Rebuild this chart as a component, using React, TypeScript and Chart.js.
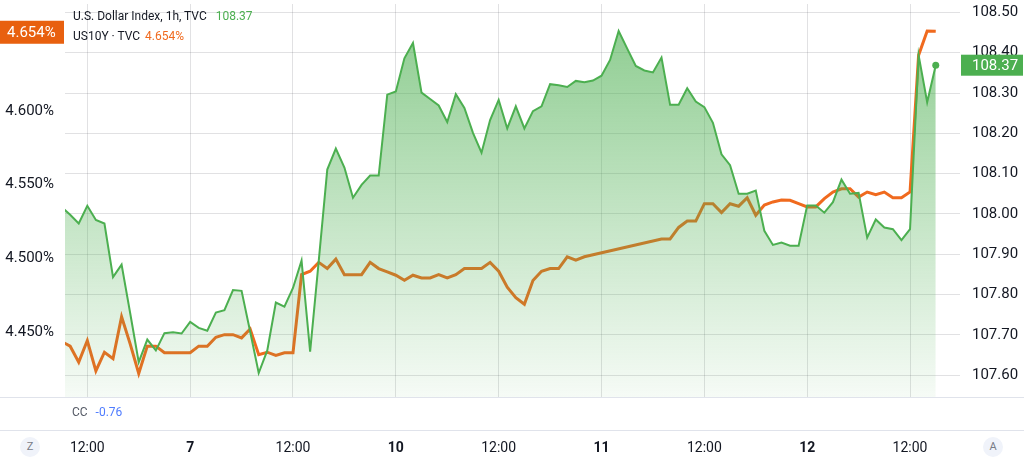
import React, { useEffect, useRef } from "react";
import { Chart, registerables } from "chart.js";

Chart.register(...registerables);

// hourly bars, index 0 = 09:00 on day 6
const tickIndices = [3, 15, 27, 39, 51, 63, 75, 87, 99];
const tickLabels = ["12:00", "7", "12:00", "10", "12:00", "11", "12:00", "12", "12:00"];
const dayLabels = ["7", "10", "11", "12"];

const dxyValues = [
  108.017, 107.998, 107.976, 108.02, 107.985, 107.976, 107.843, 107.874, 107.754, 107.632,
  107.688, 107.661, 107.704, 107.706, 107.703, 107.732, 107.717, 107.71, 107.755, 107.761,
  107.811, 107.809, 107.708, 107.605, 107.661, 107.78, 107.77, 107.816, 107.884, 107.658,
  107.882, 108.11, 108.162, 108.115, 108.04, 108.072, 108.095, 108.095, 108.296, 108.304,
  108.386, 108.424, 108.301, 108.285, 108.269, 108.228, 108.297, 108.263, 108.201, 108.152,
  108.233, 108.283, 108.212, 108.267, 108.212, 108.255, 108.267, 108.322, 108.319, 108.315,
  108.33, 108.327, 108.331, 108.343, 108.382, 108.454, 108.41, 108.367, 108.356, 108.351,
  108.388, 108.271, 108.271, 108.312, 108.279, 108.265, 108.226, 108.148, 108.121, 108.05,
  108.05, 108.058, 107.958, 107.923, 107.929, 107.921, 107.921, 108.021, 108.021, 108.003,
  108.029, 108.085, 108.05, 108.052, 107.941, 107.986, 107.966, 107.962, 107.935, 107.962,
  108.394, 108.277, 108.369,
];

const us10yValues: (number | null)[] = [
  4.4436, 4.4405, 4.4297, 4.4443, 4.4237, 4.4364, 4.432, 4.4604, 4.4421, 4.422,
  4.4405, 4.4405, 4.436, 4.436, 4.436, 4.436, 4.4405, 4.4405, 4.4465, 4.4483,
  4.4483, 4.4461, 4.4521, 4.4347, 4.4364, 4.4342, 4.436, 4.436, 4.489, 4.4913,
  4.4973, 4.4931, 4.4995, 4.489, 4.489, 4.489, 4.4973, 4.4931, 4.4908, 4.4886,
  4.4852, 4.4886, 4.4868, 4.4868, 4.489, 4.4868, 4.489, 4.4931, 4.4931, 4.4931,
  4.4973, 4.4913, 4.4805, 4.4734, 4.4689, 4.485, 4.4913, 4.4931, 4.4931, 4.5011,
  4.4989, 4.5011, null, null, null, null, null, null, null, null,
  4.5132, 4.5132, 4.521, 4.5253, 4.5253, 4.5371, 4.5371, 4.5311, 4.5371, 4.5354,
  4.5411, 4.5293, 4.5362, 4.5383, 4.5396, 4.5394, 4.5371, 4.5349, 4.5349, 4.5405,
  4.545, 4.5472, 4.5472, 4.5416, 4.545, 4.5432, 4.545, 4.5411, 4.5411, 4.545,
  4.6378, 4.6542, 4.654,
];

const leftTickValues = [4.45, 4.5, 4.55, 4.6];
const ccValue = "-0.76";

const GREEN = "#4caf50";
const ORANGE = "#f06a1e";
const ORANGE_BOX = "#e8600f";
const GRID = "rgba(42,46,57,0.14)";
const TEXT = "#131722";
const FONT = "Roboto, 'DejaVu Sans', sans-serif";

const noPadY = (s: any) => {
  s.paddingTop = 0;
  s.paddingBottom = 0;
};

const boxesPlugin = {
  id: "valueBoxes",
  afterDraw(chart: any) {
    const ctx = chart.ctx as CanvasRenderingContext2D;
    const yL = chart.scales.y;
    const yR = chart.scales.y2;
    const area = chart.chartArea;
    const lastUS = us10yValues[us10yValues.length - 1] as number;
    const lastDXY = dxyValues[dxyValues.length - 1];
    ctx.save();
    // pane separators
    ctx.strokeStyle = "#e0e3eb";
    ctx.lineWidth = 1;
    ctx.beginPath();
    ctx.moveTo(0, Math.round(area.bottom) + 0.5);
    ctx.lineTo(chart.width, Math.round(area.bottom) + 0.5);
    ctx.moveTo(0, Math.round(area.bottom) + 33.5);
    ctx.lineTo(chart.width, Math.round(area.bottom) + 33.5);
    ctx.stroke();
    // left orange last-value box
    const yo = yL.getPixelForValue(lastUS) + 1;
    ctx.fillStyle = ORANGE_BOX;
    ctx.fillRect(0, yo - 11.5, area.left - 1, 23);
    ctx.fillStyle = "#ffffff";
    ctx.font = `15px ${FONT}`;
    ctx.textAlign = "left";
    ctx.textBaseline = "middle";
    ctx.fillText(lastUS.toFixed(3) + "%", 7, yo + 1);
    // right green last-value box
    const yg = yR.getPixelForValue(lastDXY);
    ctx.fillStyle = GREEN;
    ctx.fillRect(yR.left + 4, yg - 10.5, chart.width - yR.left - 5, 21);
    ctx.fillStyle = "#ffffff";
    ctx.fillText(lastDXY.toFixed(2), yR.left + 15, yg + 1);
    ctx.restore();
  },
};

export default function App() {
  const canvasRef = useRef<HTMLCanvasElement | null>(null);

  useEffect(() => {
    const canvas = canvasRef.current;
    if (!canvas) return;
    const n = dxyValues.length;
    const chart = new Chart(canvas, {
      type: "line",
      data: {
        datasets: [
          {
            label: "U.S. Dollar Index, 1h, TVC",
            data: dxyValues.map((v, i) => ({ x: i, y: v })),
            yAxisID: "y2",
            borderColor: GREEN,
            borderWidth: 2,
            pointRadius: (c: any) => (c.dataIndex === n - 1 ? 3.5 : 0),
            pointBackgroundColor: GREEN,
            pointBorderWidth: 0,
            tension: 0,
            fill: "start",
            order: 0,
            backgroundColor: (c: any) => {
              const a = c.chart.chartArea;
              if (!a) return "rgba(76,175,80,0.3)";
              const g = c.chart.ctx.createLinearGradient(0, a.top, 0, a.bottom);
              g.addColorStop(0, "rgba(76,175,80,0.66)");
              g.addColorStop(1, "rgba(76,175,80,0.05)");
              return g;
            },
          },
          {
            label: "US10Y · TVC",
            data: us10yValues.map((v, i) => ({ x: i, y: v })),
            yAxisID: "y",
            borderColor: ORANGE,
            borderWidth: 3,
            pointRadius: 0,
            tension: 0,
            fill: false,
            spanGaps: true,
            order: 1,
          },
        ],
      },
      options: {
        animation: false,
        responsive: false,
        maintainAspectRatio: false,
        events: [],
        layout: { padding: 0 },
        plugins: { legend: { display: false }, tooltip: { enabled: false } },
        scales: {
          x: {
            type: "linear",
            min: 0.397,
            max: 104.48,
            grid: { color: GRID, drawTicks: false },
            border: { display: false },
            afterBuildTicks: (s: any) => {
              s.ticks = tickIndices.map((v) => ({ value: v }));
            },
            afterFit: (s: any) => {
              s.height = 66;
              s.paddingLeft = 0;
              s.paddingRight = 0;
            },
            ticks: {
              autoSkip: false,
              maxRotation: 0,
              padding: 43,
              color: TEXT,
              font: (c: any) => {
                const idx = tickIndices.indexOf(c.tick?.value);
                const lab = idx >= 0 ? tickLabels[idx] : "";
                return { family: FONT, size: 14, weight: dayLabels.includes(lab) ? "bold" : "normal" };
              },
              callback: (v: any) => {
                const idx = tickIndices.indexOf(Number(v));
                return idx >= 0 ? tickLabels[idx] : "";
              },
            },
          },
          y: {
            type: "linear",
            position: "left",
            min: 4.40604,
            max: 4.67248,
            grid: { display: false, drawTicks: false },
            border: { display: false },
            afterFit: (s: any) => {
              s.width = 65;
              noPadY(s);
            },
            afterBuildTicks: (s: any) => {
              s.ticks = leftTickValues.map((v) => ({ value: v }));
            },
            ticks: {
              padding: 11,
              color: TEXT,
              font: { family: FONT, size: 15 },
              callback: (v: any) => Number(v).toFixed(3) + "%",
            },
          },
          y2: {
            type: "linear",
            position: "right",
            min: 107.5455,
            max: 108.5209,
            grid: { color: GRID, tickLength: 3 },
            border: { display: false },
            afterFit: (s: any) => {
              s.width = 67;
              noPadY(s);
            },
            ticks: {
              stepSize: 0.1,
              includeBounds: false,
              padding: 12,
              color: TEXT,
              font: { family: FONT, size: 15 },
              callback: (v: any) => Number(v).toFixed(2),
            },
          },
        },
      },
      plugins: [boxesPlugin],
    });
    return () => chart.destroy();
  }, []);

  const circle: React.CSSProperties = {
    position: "absolute",
    top: 437,
    width: 20,
    height: 20,
    borderRadius: 10,
    background: "#f0f3fa",
    color: "#787b86",
    fontSize: 11,
    lineHeight: "20px",
    textAlign: "center",
    fontFamily: FONT,
  };

  return (
    <div
      style={{
        position: "fixed",
        left: 0,
        top: 0,
        width: 1024,
        height: 463,
        background: "#ffffff",
        overflow: "hidden",
      }}
    >
      <canvas ref={canvasRef} width={1024} height={463} style={{ display: "block" }} />
      <div
        style={{
          position: "absolute",
          left: 73,
          top: 6,
          fontFamily: FONT,
          fontSize: 12,
          lineHeight: "20px",
          color: TEXT,
          whiteSpace: "nowrap",
        }}
      >
        <div>
          U.S. Dollar Index, 1h, TVC{" "}
          <span style={{ color: GREEN, marginLeft: 6 }}>{dxyValues[dxyValues.length - 1].toFixed(2)}</span>
        </div>
        <div>
          US10Y · TVC{" "}
          <span style={{ color: ORANGE, marginLeft: 2 }}>
            {(us10yValues[us10yValues.length - 1] as number).toFixed(3)}%
          </span>
        </div>
      </div>
      <div
        style={{
          position: "absolute",
          left: 72,
          top: 404,
          fontFamily: FONT,
          fontSize: 12,
          lineHeight: "16px",
          color: "#555a66",
          whiteSpace: "nowrap",
        }}
      >
        CC <span style={{ color: "#4f7cff", marginLeft: 5 }}>{ccValue}</span>
      </div>
      <div style={{ ...circle, left: 20 }}>Z</div>
      <div style={{ ...circle, left: 983 }}>A</div>
    </div>
  );
}
